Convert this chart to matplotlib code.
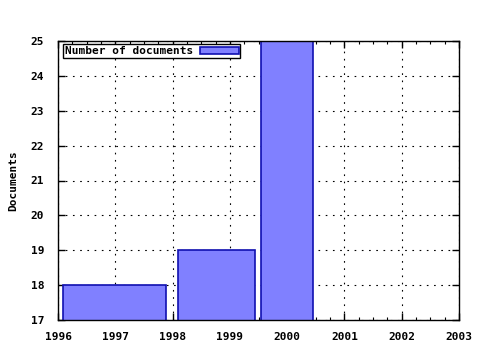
import matplotlib
matplotlib.use("Agg")
import matplotlib.pyplot as plt
from matplotlib.ticker import MultipleLocator

# datos: bordes de cada barra (en años) y número de documentos
bordes_izq = [1996.09, 1998.09, 1999.54]
bordes_der = [1997.88, 1999.44, 2000.45]
documentos = [18, 19, 25]
anios = [1996, 1997, 1998, 1999, 2000, 2001, 2002, 2003]
niveles = [17, 18, 19, 20, 21, 22, 23, 24, 25]

plt.rcParams['font.family'] = 'DejaVu Sans Mono'
plt.rcParams['font.weight'] = 'bold'
plt.rcParams['axes.labelweight'] = 'bold'
plt.rcParams['font.size'] = 8

fig = plt.figure(figsize=(4.8, 3.5), dpi=100)
ax = fig.add_axes([58/480, 1 - 320/350, (459 - 58)/480, (320 - 41)/350])

anchos = [d - i for i, d in zip(bordes_izq, bordes_der)]
ax.bar(bordes_izq, documentos, width=anchos, align='edge', bottom=0,
       color='#8080ff', edgecolor='#1010b0', linewidth=1.2,
       label='Number of documents', zorder=2)

ax.set_xlim(anios[0], anios[-1])
ax.set_ylim(niveles[0], niveles[-1])
ax.set_xticks(anios)
ax.set_yticks(niveles)
ax.xaxis.set_minor_locator(MultipleLocator(0.25))
ax.tick_params(which='both', direction='in', top=True, right=True, color='black')
ax.tick_params(which='major', length=5, width=1)
ax.tick_params(which='minor', length=2.5, width=0.8)
ax.tick_params(axis='x', which='major', pad=9)
ax.tick_params(axis='y', which='major', pad=10)
ax.grid(True, which='major', linestyle=(0, (1.5, 5)), color='black', linewidth=0.8, zorder=1)
ax.set_axisbelow(True)
for s in ax.spines.values():
    s.set_linewidth(1)

ax.set_ylabel('Documents', labelpad=9)

leg = ax.legend(loc='upper left', frameon=True, fancybox=False, framealpha=1,
                edgecolor='black', handlelength=3.5, handleheight=0.6,
                borderpad=0.15, borderaxespad=0.3, markerfirst=False,
                handletextpad=0.6, bbox_to_anchor=(0.005, 1.0))
leg.get_frame().set_linewidth(1)

plt.savefig('out.png', dpi=100)
